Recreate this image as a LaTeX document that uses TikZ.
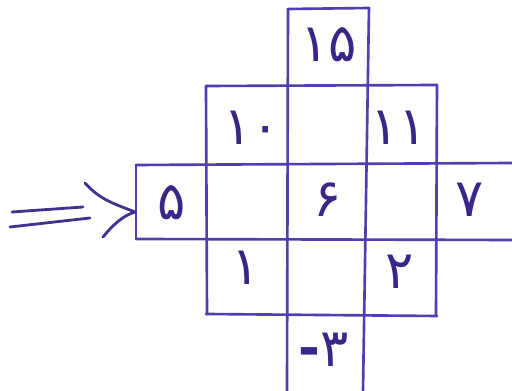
\documentclass[tikz,border=0pt]{standalone}
\usepackage{fontspec}
\newfontfamily\persian[Script=Arabic]{DejaVu Sans}
\newfontfamily\plainsans{DejaVu Sans}
\definecolor{ink}{RGB}{82,62,178}
\definecolor{txt}{RGB}{58,38,135}
\begin{document}
\begin{tikzpicture}[x=0.02cm,y=-0.02cm,
  gridline/.style={draw=ink,line width=1.5pt,line cap=round},
  num/.style={text=txt,font=\persian\fontsize{30}{34}\selectfont,inner sep=0pt},
  arrowline/.style={draw=ink!80!black,line width=1.6pt,line cap=round}]
\useasboundingbox (0,0) rectangle (512,391);
\fill[white] (0,0) rectangle (512,391);
% horizontal lines
\draw[gridline] (288,9) -- (369,8);
\draw[gridline] (206,86) -- (437,85);
\draw[gridline] (136,165) -- (512,163);
\draw[gridline] (136,239) -- (512,240);
\draw[gridline] (206,314) -- (437,316);
% vertical lines
\draw[gridline] (136,165) -- (136,239);
\draw[gridline] (206,86) -- (207,314);
\draw[gridline] (288,9) -- (287,391);
\draw[gridline] (369,8) -- (363,391);
\draw[gridline] (437,85) -- (436,316);
% numbers
\node[num] (n15) at (329,45) {۱۵};
\node[num] (n10) at (252,128) {۱۰};
\node[num] (n11) at (399,128) {۱۱};
\node[num] (n5) at (172,203) {۵};
\node[num] (n6) at (328,200) {۶};
\node[num] (n7) at (470,200) {۷};
\node[num] (n1) at (246,268) {۱};
\node[num] (n2) at (400,272) {۲};
\node[num] (n3) at (324,350) {\hbox{\plainsans\bfseries -}\hbox{۳}};
% arrow
\coordinate (tip) at (135,212);
\coordinate (a1) at (12,212);
\coordinate (a2) at (83,207);
\coordinate (b1) at (10,227);
\coordinate (b2) at (90,218);
\coordinate (h1) at (85,183);
\coordinate (h2) at (103,237);
\draw[arrowline] (a1) -- (a2);
\draw[arrowline] (b1) -- (b2);
\draw[arrowline] (h1) .. controls (100,200) and (115,204) .. (tip);
\draw[arrowline] (h2) .. controls (112,226) and (122,216) .. (tip);
\end{tikzpicture}
\end{document}
